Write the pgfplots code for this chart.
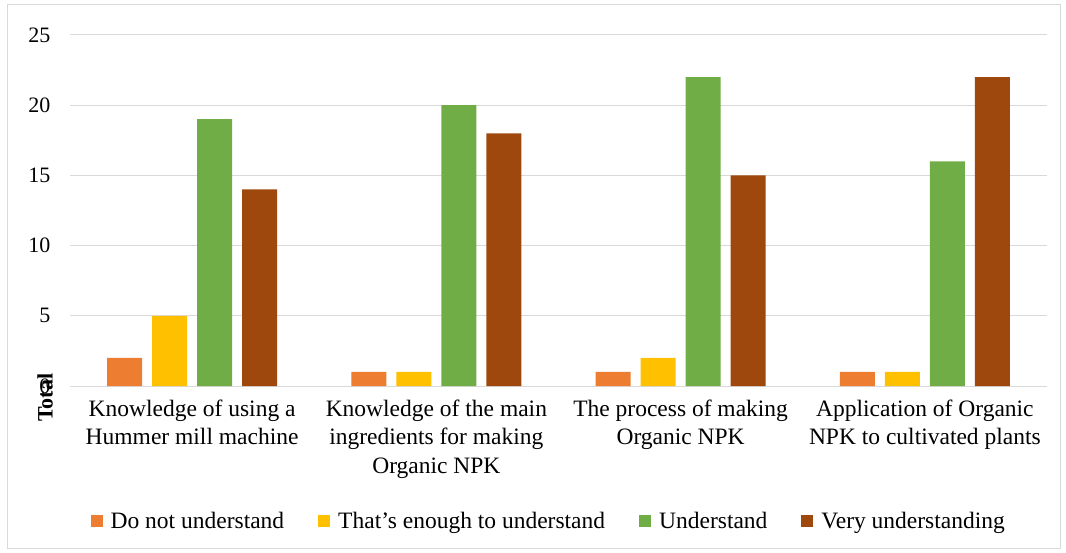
\documentclass[border=0pt]{standalone}
\usepackage{pgfplots}
\pgfplotsset{compat=1.18}
\usepackage{fontspec}
\setmainfont{Liberation Serif}
\definecolor{c1}{HTML}{ED7D31}
\definecolor{c2}{HTML}{FFC000}
\definecolor{c3}{HTML}{70AD47}
\definecolor{c4}{HTML}{9E480E}
\definecolor{gridc}{HTML}{D9D9D9}
\begin{document}
\begin{tikzpicture}
\useasboundingbox (-70bp,-167bp) rectangle (996bp,386bp);
\draw[gridc, line width=1bp] (-62bp,-162bp) rectangle (990bp,381bp);
\begin{axis}[
  at={(0,0)}, anchor=south west,
  scale only axis, width=977bp, height=351bp,
  ybar=10bp, bar width=35bp,
  xmin=-0.5, xmax=3.5, ymin=0, ymax=25,
  xtick=data,
  xticklabels={{Knowledge of using a\\Hummer mill machine},{Knowledge of the main\\ingredients for making\\Organic NPK},{The process of making\\Organic NPK},{Application of Organic\\NPK to cultivated plants}},
  xticklabel style={align=center, font=\fontsize{23.5bp}{28.5bp}\selectfont, yshift=-10bp},
  ytick={0,5,10,15,20,25},
  yticklabel style={font=\fontsize{22bp}{24bp}\selectfont, xshift=-16bp},
  /pgf/number format/assume math mode=true,
  ymajorgrids, grid style={gridc, line width=1bp},
  axis x line*=bottom, axis y line*=left,
  y axis line style={draw=none},
  x axis line style={gridc, line width=1bp},
  major tick length=0pt,
  ylabel={\bfseries Total},
  ylabel style={at={(axis description cs:-0.0256,-0.034)}, anchor=center, font=\fontsize{22bp}{24bp}\selectfont},
  legend style={at={(axis description cs:0.49,-0.385)}, anchor=center, draw=none, legend columns=4,
    font=\fontsize{23.5bp}{26bp}\selectfont, /tikz/every even column/.append style={column sep=32bp},
    /tikz/every odd column/.append style={column sep=6bp}},
  legend image code/.code={\fill[#1] (0bp,-6bp) rectangle (12bp,6bp);},
]
\addplot[fill=c1, draw=none] coordinates {(0,2) (1,1) (2,1) (3,1)};
\addplot[fill=c2, draw=none] coordinates {(0,5) (1,1) (2,2) (3,1)};
\addplot[fill=c3, draw=none] coordinates {(0,19) (1,20) (2,22) (3,16)};
\addplot[fill=c4, draw=none] coordinates {(0,14) (1,18) (2,15) (3,22)};
\legend{Do not understand, That's enough to understand, Understand, Very understanding}
\end{axis}
\end{tikzpicture}
\end{document}
